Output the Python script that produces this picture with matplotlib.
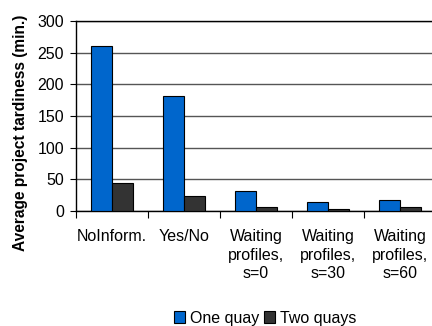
import matplotlib
matplotlib.use("Agg")
import matplotlib.pyplot as plt
import numpy as np
from matplotlib.patches import Patch

plt.rcParams['font.family'] = ['Liberation Sans', 'DejaVu Sans']

categories = ["NoInform.", "Yes/No", "Waiting\nprofiles,\ns=0", "Waiting\nprofiles,\ns=30", "Waiting\nprofiles,\ns=60"]
one_quay = [261, 182, 31, 15, 18]
two_quays = [45, 23, 6, 2.5, 6]
yticks = [0, 50, 100, 150, 200, 250, 300]

blue = '#0066CC'
dark = '#333333'

fig = plt.figure(figsize=(4.32, 3.26), dpi=100)
ax = fig.add_axes([76/432, 115/326, 360/432, 190/326])

x = np.arange(len(categories))
w = 0.285
ax.bar(x - w/2, one_quay, w, color=blue, edgecolor='black', linewidth=0.8, zorder=3)
ax.bar(x + w/2, two_quays, w, color=dark, edgecolor='black', linewidth=0.8, zorder=3)

ax.set_xlim(-0.5, len(categories) - 0.5)
ax.set_ylim(0, 300)
ax.set_yticks(yticks)
ax.tick_params(axis='y', labelsize=11.5, length=4.5, width=0.8, pad=4, direction='out')
ax.yaxis.grid(True, color='#555555', linewidth=1, zorder=0)
ax.set_axisbelow(True)

ax.set_xticks(x)
ax.set_xticklabels(categories, fontsize=11.5, linespacing=1.3)
ax.tick_params(axis='x', length=0, pad=13)
ax.set_xticks(np.arange(-0.5, len(categories), 1), minor=True)
ax.tick_params(axis='x', which='minor', length=5, width=0.8, direction='out')

for s in ['left', 'bottom', 'top']:
    ax.spines[s].set_color('black')
    ax.spines[s].set_linewidth(1)
ax.spines['right'].set_visible(False)

fig.text(21/432, 1 - 133/326, "Average project tardiness (min.)", rotation=90,
         fontsize=11.2, fontweight='bold', ha='center', va='center')

handles = [Patch(facecolor=blue, edgecolor='black', linewidth=0.8, label='One quay'),
           Patch(facecolor=dark, edgecolor='black', linewidth=0.8, label='Two quays')]
fig.legend(handles=handles, loc='center', bbox_to_anchor=(265/432, 1 - 318/326),
           ncol=2, frameon=False, fontsize=11.5, handlelength=0.7, handleheight=0.7,
           handletextpad=0.3, columnspacing=0.3, borderpad=0)

fig.savefig("out.png", dpi=100)
